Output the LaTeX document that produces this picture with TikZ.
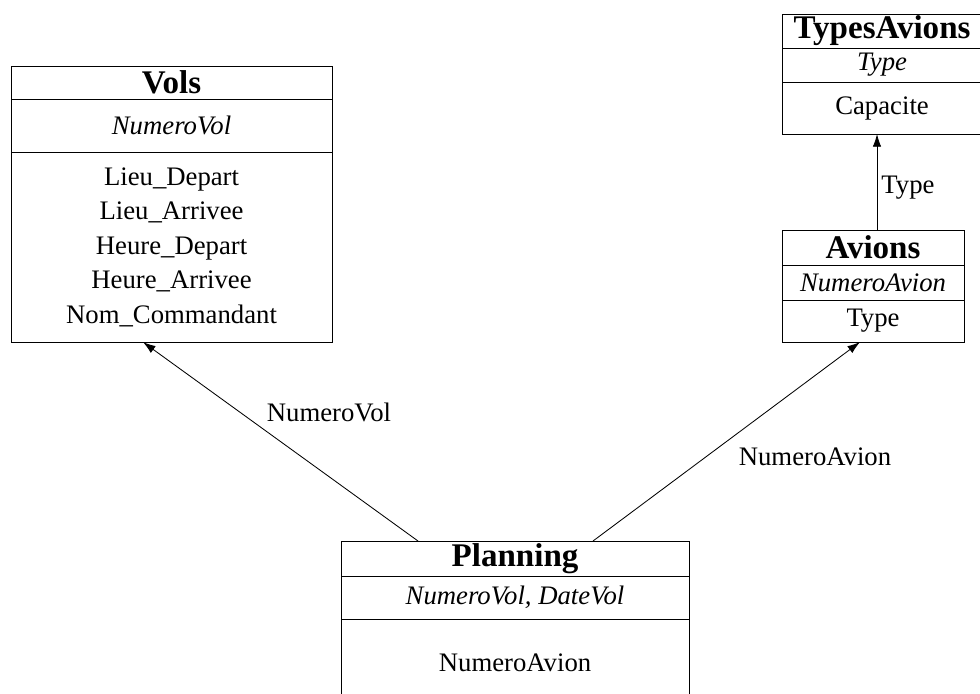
\documentclass[tikz,border=0pt]{standalone}
\usepackage{fontspec}
\setmainfont{Liberation Serif}
\usetikzlibrary{arrows.meta,positioning,calc}

\tikzset{
  tabname/.style={draw, inner sep=0pt, outer sep=0pt, font=\fontsize{23.5}{28}\selectfont\bfseries},
  tabkey/.style={draw, inner sep=0pt, outer sep=0pt, font=\fontsize{19}{24}\selectfont\itshape},
  tabattr/.style={draw, inner sep=0pt, outer sep=0pt, align=center, font=\fontsize{19}{24.5}\selectfont},
  lbl/.style={font=\fontsize{19}{24}\selectfont},
  lien/.style={->, line width=0.6pt},
}

\begin{document}
\begin{tikzpicture}[x=0.025cm, y=-0.025cm, line width=0.6pt, >={Latex[length=9pt,width=6pt]}]
  \useasboundingbox (0,0) rectangle (980,693);
  % Vols
  \node[tabname, minimum width=8.025cm, minimum height=0.825cm, anchor=north west] (vols) at (11,66) {Vols};
  \node[tabkey, minimum width=8.025cm, minimum height=1.325cm, below=0pt of vols] (volskey) {NumeroVol};
  \node[tabattr, minimum width=8.025cm, minimum height=4.75cm, below=0pt of volskey] (volsattr)
    {Lieu\_Depart\\Lieu\_Arrivee\\Heure\_Depart\\Heure\_Arrivee\\Nom\_Commandant};
  % TypesAvions
  \node[tabname, minimum width=5cm, minimum height=0.85cm, anchor=north west] (types) at (782,14) {TypesAvions};
  \node[tabkey, minimum width=5cm, minimum height=0.85cm, below=0pt of types] (typeskey) {Type};
  \node[tabattr, minimum width=5cm, minimum height=1.3cm, below=0pt of typeskey] (typesattr) {Capacite};
  % Avions
  \node[tabname, minimum width=4.55cm, minimum height=0.875cm, anchor=north west] (avions) at (782,230) {Avions};
  \node[tabkey, minimum width=4.55cm, minimum height=0.875cm, below=0pt of avions] (avionskey) {NumeroAvion};
  \node[tabattr, minimum width=4.55cm, minimum height=1.05cm, below=0pt of avionskey] (avionsattr) {Type};
  % Planning
  \node[tabname, minimum width=8.7cm, minimum height=0.875cm, anchor=north west] (plan) at (341,541) {Planning};
  \node[tabkey, minimum width=8.7cm, minimum height=1.075cm, below=0pt of plan] (plankey) {NumeroVol, DateVol};
  \node[tabattr, minimum width=8.7cm, minimum height=2.2cm, below=0pt of plankey] (planattr) {NumeroAvion};

  % liens
  \draw[lien] ($(plan.north west)+(77,0)$) -- ($(volsattr.south west)+(132,0)$);
  \draw[lien] ($(plan.north west)+(252,0)$) -- ($(avionsattr.south west)+(78,0)$);
  \draw[lien] ($(avions.north west)+(95,0)$) -- ($(typesattr.south west)+(95,0)$);
  \node[lbl] (lblvol) at (329,412) {NumeroVol};
  \node[lbl] (lblavion) at (815,457) {NumeroAvion};
  \node[lbl] (lbltype) at (908,188) {Type};
\end{tikzpicture}
\end{document}
